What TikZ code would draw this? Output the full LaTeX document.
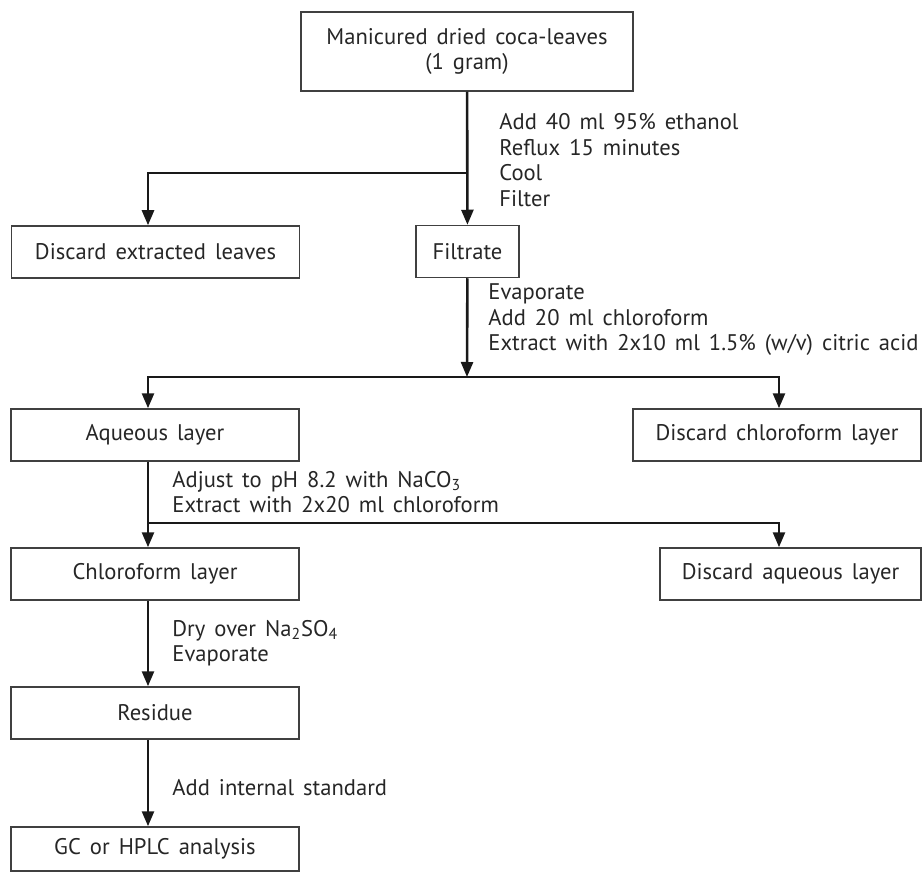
\documentclass[tikz,border=0pt]{standalone}
\usepackage{fontspec}
\setmainfont{PT Sans}
\usetikzlibrary{arrows.meta}
\newcommand\flowfont{\fontsize{11.3}{12.75}\selectfont\spaceskip=.4em plus .1em\relax}

\begin{document}
\begin{tikzpicture}[x=0.5pt, y=-0.5pt, font=\flowfont, >={Triangle[length=7.5pt,width=6pt]},
 box/.style={draw=black!75, line width=0.75pt, text=black!85, align=center, inner sep=0pt, minimum width=144pt, minimum height=26pt},
 note/.style={anchor=west, align=left, inner sep=0pt, text=black!85},
 line/.style={->, line width=1.3pt, black!90}]
\useasboundingbox (0,0) rectangle (922,872);
% boxes
\node[box, minimum width=166pt, minimum height=39.5pt] (leaves) at (467,51.5) {Manicured dried coca-leaves\\(1 gram)};
\node[box] (leafwaste) at (155.5,252) {Discard extracted leaves};
\node[box, minimum width=51.5pt] (filtrate) at (467.5,251.5) {Filtrate};
\node[box] (aqueous) at (155,435) {Aqueous layer};
\node[box] (chlwaste) at (777,435) {Discard chloroform layer};
\node[box] (chloro) at (155,574) {Chloroform layer};
\node[box, minimum width=130.5pt] (aqwaste) at (790.5,574) {Discard aqueous layer};
\node[box] (residue) at (155,713) {Residue};
\node[box, minimum height=22pt] (analysis) at (155,849) {GC or HPLC analysis};
% step notes
\node[note] (n1) at (499,160) {Add 40 ml 95\% ethanol\\Reflux 15 minutes\\Cool\\Filter};
\node[note] (n2) at (488,320) {Evaporate\\Add 20 ml chloroform\\Extract with 2x10 ml 1.5\% (w/v) citric acid};
\node[note] (n3) at (172,492) {Adjust to pH 8.2 with NaCO\textsubscript{3}\\Extract with 2x20 ml chloroform};
\node[note] (n4) at (172,643) {Dry over Na\textsubscript{2}SO\textsubscript{4}\\Evaporate};
\node[note] (n5) at (172,788) {Add internal standard};
% junctions
\coordinate (lx) at (148,0); \coordinate (rx) at (779,0);
\coordinate (j1) at (467,173); \coordinate (j2) at (467,377); \coordinate (j3) at (148,523);
\draw[line] (leaves) -- (filtrate);
\draw[line] (j1) -| (lx |- leafwaste.north);
\draw[line] (filtrate) -- (j2);
\draw[line] (j2) -| (lx |- aqueous.north); \draw[line] (j2) -| (rx |- chlwaste.north);
\draw[line] (lx |- aqueous.south) -- (lx |- chloro.north);
\draw[line] (j3) -| (rx |- aqwaste.north);
\draw[line] (lx |- chloro.south) -- (lx |- residue.north);
\draw[line] (lx |- residue.south) -- (lx |- analysis.north);
\end{tikzpicture}
\end{document}
